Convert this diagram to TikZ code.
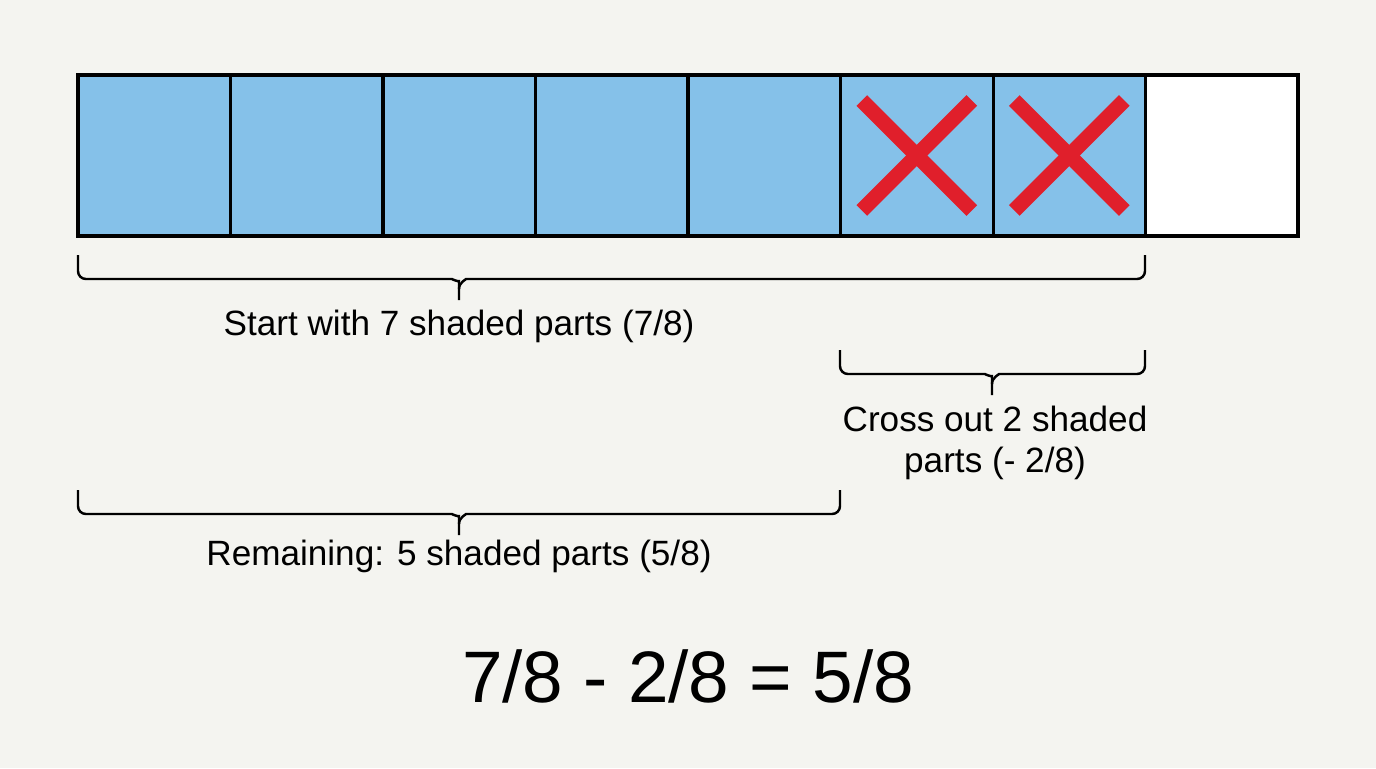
\documentclass[tikz,border=0pt]{standalone}
\usepackage{fontspec}
\setmainfont{Liberation Sans}
\usetikzlibrary{positioning}
\definecolor{paper}{HTML}{F4F4F0}
\definecolor{partblue}{HTML}{85C1E9}
\definecolor{crossred}{HTML}{E01F2B}

% left x, right x, tip x, top y
\newcommand{\partbrace}[4]{%
  \pgfmathsetmacro{\bbar}{#4+24}
  \pgfmathsetmacro{\bknee}{#4+34}
  \pgfmathsetmacro{\btip}{#4+45}
  \draw [brace] (#1,#4) -- (#1,\bbar) -- (#3-15,\bbar) to[out=0,in=90] (#3,\bknee) -- (#3,\btip);
  \draw [brace] (#2,#4) -- (#2,\bbar) -- (#3+15,\bbar) to[out=180,in=90] (#3,\bknee);}

\begin{document}
\begin{tikzpicture}[x=0.02cm, y=-0.02cm,
  cell/.style={draw, line width=1.7pt, minimum width=3.05cm, minimum height=3.22cm, inner sep=0pt, outer sep=0pt},
  shaded/.style={cell, fill=partblue},
  blank/.style={cell, fill=white},
  cross/.style={crossred, line width=8.5pt},
  brace/.style={line width=1.4pt, rounded corners=4.5pt},
  label/.style={font=\fontsize{20}{23.3}\selectfont, align=center}]

\fill [paper] (0,0) rectangle (1376,768);
\useasboundingbox (0,0) rectangle (1376,768);

% the eight parts
\foreach \i in {1,...,7}
  \node [shaded] (c\i) at ({78+152.5*(\i-0.5)},155.5) {};
\node [blank] (c8) at ({78+152.5*7.5},155.5) {};
\draw [line width=2.3pt] (c1.north west) rectangle (c8.south east);

% crossed out parts
\foreach \i in {6,7} {
  \draw [cross] ([shift={(-55,-55)}]c\i.center) -- ([shift={(55,55)}]c\i.center);
  \draw [cross] ([shift={(55,-55)}]c\i.center) -- ([shift={(-55,55)}]c\i.center);
}

% braces
\partbrace{78}{1145}{459}{255}
\partbrace{840}{1145}{992}{350}
\partbrace{78}{840}{459}{490}

\node [label] (start) at (459,326) {Start with 7 shaded parts (7/8)};
\node [label] (crossout) at (995,443) {Cross out 2 shaded\\parts (- 2/8)};
\node [label] (remain) at (459,556) {Remaining: 5 shaded parts (5/8)};

\node [font=\fontsize{41.5}{50}\selectfont] (equation) at (688,676) {7/8 - 2/8 = 5/8};

\end{tikzpicture}
\end{document}
